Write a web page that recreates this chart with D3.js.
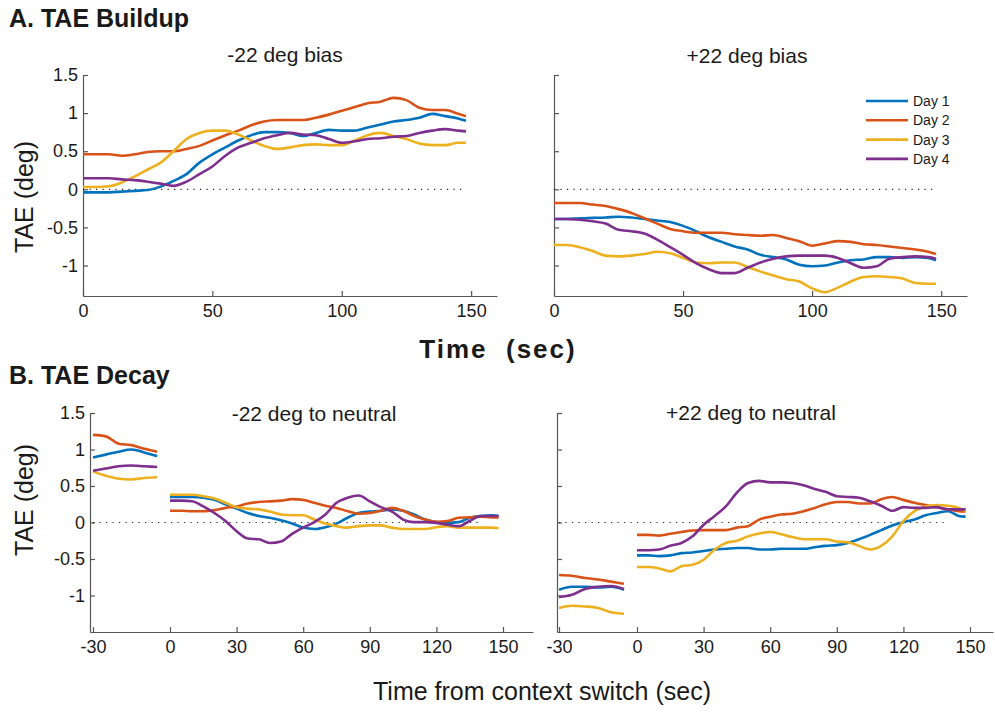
<!DOCTYPE html>
<html>
<head>
<meta charset="utf-8">
<script src="https://cdn.jsdelivr.net/npm/d3@7"></script>
<style>
  body { margin: 0; background: #fff; }
  text { font-family: "Liberation Sans", Arial, Helvetica, sans-serif; fill: #1a1a1a; }
</style>
</head>
<body>
<div id="chart"></div>
<script>
// ---- data ----
var days = ['Day 1', 'Day 2', 'Day 3', 'Day 4'];
var timeBuild = [0, 5, 10, 15, 20, 25, 30, 35, 40, 45, 50, 55, 60, 65, 70, 75, 80, 85, 90, 95, 100, 105, 110, 115, 120, 125, 130, 135, 140, 145, 148];
var timePre = [-30, -25, -20, -15, -10, -5];
var timePost = [0, 5, 10, 15, 20, 25, 30, 35, 40, 45, 50, 55, 60, 65, 70, 75, 80, 85, 90, 95, 100, 105, 110, 115, 120, 125, 130, 135, 140, 145, 148];
var yTicks = [-1, -0.5, 0, 0.5, 1, 1.5];
var buildTicks = [0, 50, 100, 150];
var decayTicks = [-30, 0, 30, 60, 90, 120, 150];

// A: -22 deg bias (Day 1..4)
var buildMinus = [
    [-0.04, -0.04, -0.04, -0.03, -0.02, -0.01, 0.035, 0.11, 0.20, 0.35, 0.46, 0.55, 0.64, 0.71, 0.75, 0.75, 0.74, 0.70, 0.74, 0.78, 0.77, 0.77, 0.81, 0.85, 0.89, 0.91, 0.94, 0.99, 0.96, 0.93, 0.90],
    [0.46, 0.46, 0.46, 0.44, 0.46, 0.49, 0.50, 0.50, 0.53, 0.57, 0.64, 0.71, 0.77, 0.84, 0.89, 0.91, 0.91, 0.91, 0.94, 0.98, 1.03, 1.08, 1.13, 1.15, 1.20, 1.17, 1.07, 1.04, 1.04, 0.99, 0.96],
    [0.03, 0.03, 0.04, 0.09, 0.17, 0.26, 0.35, 0.50, 0.66, 0.74, 0.77, 0.77, 0.72, 0.64, 0.57, 0.53, 0.55, 0.58, 0.59, 0.58, 0.58, 0.64, 0.71, 0.74, 0.70, 0.66, 0.60, 0.58, 0.58, 0.61, 0.61],
    [0.145, 0.145, 0.145, 0.13, 0.12, 0.10, 0.075, 0.045, 0.10, 0.20, 0.30, 0.44, 0.55, 0.61, 0.67, 0.71, 0.74, 0.72, 0.71, 0.66, 0.61, 0.63, 0.66, 0.67, 0.69, 0.70, 0.74, 0.77, 0.79, 0.77, 0.76]
];
// A: +22 deg bias
var buildPlus = [
    [-0.39, -0.39, -0.38, -0.375, -0.37, -0.36, -0.37, -0.39, -0.41, -0.43, -0.48, -0.55, -0.63, -0.69, -0.75, -0.79, -0.86, -0.89, -0.92, -0.99, -1.01, -1.00, -0.96, -0.93, -0.92, -0.89, -0.89, -0.90, -0.89, -0.90, -0.93],
    [-0.18, -0.18, -0.18, -0.20, -0.22, -0.26, -0.31, -0.38, -0.45, -0.52, -0.55, -0.57, -0.57, -0.57, -0.59, -0.60, -0.61, -0.60, -0.64, -0.68, -0.74, -0.71, -0.68, -0.69, -0.72, -0.73, -0.75, -0.77, -0.79, -0.82, -0.85],
    [-0.73, -0.73, -0.76, -0.81, -0.87, -0.88, -0.87, -0.85, -0.82, -0.84, -0.90, -0.96, -0.97, -0.96, -0.96, -1.02, -1.08, -1.13, -1.18, -1.21, -1.30, -1.35, -1.29, -1.21, -1.15, -1.14, -1.15, -1.17, -1.23, -1.24, -1.24],
    [-0.39, -0.39, -0.40, -0.42, -0.45, -0.53, -0.55, -0.58, -0.66, -0.76, -0.86, -0.97, -1.05, -1.10, -1.10, -1.03, -0.96, -0.91, -0.88, -0.87, -0.87, -0.87, -0.90, -0.97, -1.03, -1.01, -0.91, -0.89, -0.88, -0.89, -0.91]
];
// B: -22 deg to neutral, before and after the switch
var decayMinusPre = [
    [0.89, 0.93, 0.97, 1.00, 0.96, 0.91],
    [1.20, 1.18, 1.08, 1.06, 1.01, 0.97],
    [0.70, 0.64, 0.60, 0.59, 0.61, 0.62],
    [0.71, 0.74, 0.77, 0.78, 0.77, 0.76]
];
var decayMinusPost = [
    [0.35, 0.35, 0.35, 0.34, 0.31, 0.25, 0.19, 0.13, 0.09, 0.065, 0.03, -0.015, -0.07, -0.09, -0.065, -0.015, 0.065, 0.13, 0.15, 0.16, 0.18, 0.16, 0.11, 0.04, 0.005, -0.005, 0.005, 0.065, 0.09, 0.10, 0.09],
    [0.16, 0.16, 0.155, 0.155, 0.17, 0.20, 0.22, 0.26, 0.28, 0.29, 0.30, 0.32, 0.31, 0.27, 0.23, 0.20, 0.155, 0.12, 0.13, 0.16, 0.20, 0.16, 0.09, 0.04, 0.01, 0.02, 0.065, 0.07, 0.08, 0.07, 0.07],
    [0.38, 0.38, 0.38, 0.36, 0.33, 0.27, 0.21, 0.19, 0.18, 0.15, 0.11, 0.10, 0.10, 0.04, -0.015, -0.05, -0.07, -0.05, -0.04, -0.04, -0.07, -0.09, -0.09, -0.09, -0.065, -0.05, -0.07, -0.07, -0.07, -0.07, -0.08],
    [0.30, 0.30, 0.29, 0.22, 0.13, 0.02, -0.12, -0.22, -0.23, -0.28, -0.26, -0.155, -0.07, 0.005, 0.11, 0.27, 0.34, 0.37, 0.29, 0.21, 0.15, 0.04, 0.005, 0.005, -0.005, -0.03, -0.05, 0.02, 0.09, 0.09, 0.09]
];
// B: +22 deg to neutral
var decayPlusPre = [
    [-0.92, -0.88, -0.88, -0.89, -0.88, -0.92],
    [-0.72, -0.73, -0.76, -0.78, -0.81, -0.84],
    [-1.17, -1.14, -1.15, -1.17, -1.23, -1.25],
    [-1.02, -0.99, -0.91, -0.88, -0.87, -0.91]
];
var decayPlusPost = [
    [-0.45, -0.45, -0.46, -0.45, -0.42, -0.41, -0.39, -0.37, -0.36, -0.35, -0.35, -0.37, -0.37, -0.36, -0.36, -0.36, -0.34, -0.32, -0.31, -0.28, -0.23, -0.17, -0.105, -0.04, 0.005, 0.04, 0.10, 0.13, 0.155, 0.09, 0.08],
    [-0.17, -0.17, -0.18, -0.155, -0.13, -0.11, -0.105, -0.105, -0.105, -0.07, -0.05, 0.04, 0.08, 0.11, 0.12, 0.155, 0.20, 0.25, 0.28, 0.28, 0.26, 0.26, 0.32, 0.35, 0.31, 0.27, 0.24, 0.21, 0.18, 0.155, 0.15],
    [-0.61, -0.61, -0.63, -0.67, -0.60, -0.58, -0.51, -0.37, -0.28, -0.25, -0.19, -0.15, -0.13, -0.16, -0.20, -0.23, -0.23, -0.23, -0.26, -0.27, -0.32, -0.37, -0.32, -0.19, 0.02, 0.155, 0.22, 0.24, 0.23, 0.20, 0.16],
    [-0.38, -0.38, -0.37, -0.32, -0.28, -0.19, -0.03, 0.09, 0.22, 0.41, 0.54, 0.57, 0.55, 0.55, 0.54, 0.51, 0.46, 0.42, 0.36, 0.35, 0.34, 0.29, 0.23, 0.16, 0.21, 0.20, 0.20, 0.21, 0.18, 0.18, 0.18]
];

var colors = ['#0072BD', '#D95319', '#EDB120', '#7E2F8E'];
var axisColor = '#555';

var svg = d3.select('#chart')
    .append('svg')
    .attr('width', 995)
    .attr('height', 715);

function fmt(d) { return String(d); }

function drawPanel(p) {
    var g = svg.append('g');

    // axes (MATLAB style: ticks point inward, no box)
    var yAxis = d3.axisLeft(p.y).tickValues(yTicks).tickSizeInner(-5).tickSizeOuter(0).tickPadding(5)
        .tickFormat(p.yLabels ? fmt : function () { return ''; });
    var xAxis = d3.axisBottom(p.x).tickValues(p.xTicks).tickSizeInner(-5).tickSizeOuter(0).tickPadding(8)
        .tickFormat(fmt);

    var gy = g.append('g').attr('transform', 'translate(' + p.axisX + ',0)').call(yAxis);
    var gx = g.append('g').attr('transform', 'translate(0,' + p.y.range()[0] + ')').call(xAxis);
    [gx, gy].forEach(function (a) {
        a.select('.domain').attr('stroke', axisColor).attr('stroke-width', 1.2);
        a.selectAll('.tick line').attr('stroke', axisColor).attr('stroke-width', 1.2);
        a.selectAll('.tick text').attr('font-size', 18).attr('fill', '#1a1a1a')
            .attr('font-family', '"Liberation Sans", Arial, sans-serif');
    });

    // dotted zero line
    g.append('line')
        .attr('x1', p.x(p.zeroFrom)).attr('x2', p.x(p.zeroTo))
        .attr('y1', p.y(0)).attr('y2', p.y(0))
        .attr('stroke', '#222')
        .attr('stroke-width', 1.2)
        .attr('stroke-dasharray', '1.2,5.3');

    var line = d3.line()
        .x(function (d) { return p.x(d[0]); })
        .y(function (d) { return p.y(d[1]); })
        .curve(d3.curveMonotoneX);

    p.segments.forEach(function (seg) {
        seg.values.forEach(function (vals, i) {
            g.append('path')
                .datum(seg.time.map(function (t, j) { return [t, vals[j]]; }))
                .attr('d', line)
                .attr('fill', 'none')
                .attr('stroke', colors[i])
                .attr('stroke-width', 2.6)
                .attr('stroke-linejoin', 'round')
                .attr('stroke-linecap', 'butt');
        });
    });

    g.append('text')
        .attr('x', p.titleX).attr('y', p.titleY)
        .attr('text-anchor', 'middle')
        .attr('font-size', 21)
        .text(p.title);
}

var yBuild = d3.scaleLinear().domain([-1.4, 1.5]).range([296, 75]);
var yDecay = d3.scaleLinear().domain([-1.5, 1.5]).range([632, 413]);

drawPanel({
    x: d3.scaleLinear().domain([0, 160]).range([83, 497]),
    y: yBuild, axisX: 83, xTicks: buildTicks, yLabels: true,
    zeroFrom: 0, zeroTo: 148,
    segments: [{ time: timeBuild, values: buildMinus }],
    title: '-22 deg bias', titleX: 285, titleY: 62
});
drawPanel({
    x: d3.scaleLinear().domain([0, 160]).range([554, 967]),
    y: yBuild, axisX: 554, xTicks: buildTicks, yLabels: false,
    zeroFrom: 0, zeroTo: 148,
    segments: [{ time: timeBuild, values: buildPlus }],
    title: '+22 deg bias', titleX: 747, titleY: 63
});
// the pre-switch stretch is drawn a little wider than the post-switch one
drawPanel({
    x: d3.scaleLinear().domain([-31.2, -30, 0, 150, 163.5]).range([90, 93, 170, 503, 533]),
    y: yDecay, axisX: 90, xTicks: decayTicks, yLabels: true,
    zeroFrom: -30, zeroTo: 140,
    segments: [{ time: timePre, values: decayMinusPre }, { time: timePost, values: decayMinusPost }],
    title: '-22 deg to neutral', titleX: 314, titleY: 421
});
drawPanel({
    x: d3.scaleLinear().domain([-30.8, -30, 0, 150, 160.3]).range([557, 559, 637, 970, 993]),
    y: yDecay, axisX: 557, xTicks: decayTicks, yLabels: false,
    zeroFrom: -30, zeroTo: 140,
    segments: [{ time: timePre, values: decayPlusPre }, { time: timePost, values: decayPlusPost }],
    title: '+22 deg to neutral', titleX: 751, titleY: 420
});

// legend
var legend = svg.append('g').attr('transform', 'translate(866,101)');
days.forEach(function (d, i) {
    legend.append('line')
        .attr('x1', 0).attr('x2', 42)
        .attr('y1', i * 19.3).attr('y2', i * 19.3)
        .attr('stroke', colors[i]).attr('stroke-width', 2.6);
    legend.append('text')
        .attr('x', 47).attr('y', i * 19.3).attr('dy', '0.35em')
        .attr('font-size', 14)
        .text(d);
});

// headings and axis labels
svg.append('text').attr('x', 9).attr('y', 27)
    .attr('font-size', 25).attr('font-weight', 'bold').text('A. TAE Buildup');
svg.append('text').attr('x', 9).attr('y', 384)
    .attr('font-size', 25).attr('font-weight', 'bold').text('B. TAE Decay');

[197, 500].forEach(function (cy) {
    svg.append('text')
        .attr('transform', 'translate(33,' + cy + ') rotate(-90)')
        .attr('text-anchor', 'middle')
        .attr('font-size', 25)
        .text('TAE (deg)');
});

svg.append('text').attr('x', 498).attr('y', 358)
    .attr('text-anchor', 'middle')
    .attr('font-size', 26).attr('font-weight', 'bold')
    .attr('letter-spacing', 2)
    .style('white-space', 'pre')
    .text('Time  (sec)');

svg.append('text').attr('x', 542).attr('y', 700)
    .attr('text-anchor', 'middle')
    .attr('font-size', 25)
    .text('Time from context switch (sec)');
</script>
</body>
</html>
